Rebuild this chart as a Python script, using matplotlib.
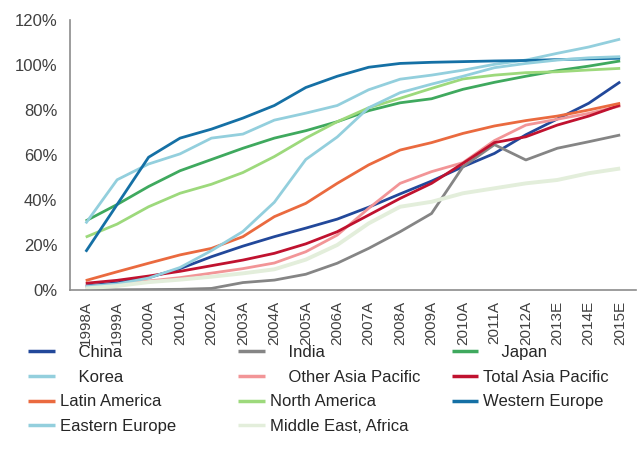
import matplotlib
matplotlib.use("Agg")
import matplotlib.pyplot as plt
from matplotlib.ticker import FuncFormatter

plt.rcParams['font.family'] = ['Liberation Sans', 'DejaVu Sans']

years = ['1998A', '1999A', '2000A', '2001A', '2002A', '2003A', '2004A', '2005A', '2006A',
         '2007A', '2008A', '2009A', '2010A', '2011A', '2012A', '2013E', '2014E', '2015E']

china = [1.8, 3.2, 5.5, 9.5, 14.8, 19.5, 23.7, 27.5, 31.5, 36.8, 42.7, 48.4, 54.8, 60.7, 69.0, 76.0, 83.0, 92.5]
india = [0.0, 0.1, 0.2, 0.3, 0.7, 3.3, 4.4, 7.0, 11.9, 18.5, 25.9, 34.0, 54.8, 64.6, 57.8, 63.0, 65.9, 68.9]
japan = [30.7, 38.0, 46.0, 53.0, 58.0, 63.0, 67.5, 70.8, 74.8, 79.7, 83.2, 85.0, 89.2, 92.3, 95.0, 97.5, 99.5, 101.8]
korea = [29.6, 49.0, 56.0, 60.5, 67.5, 69.3, 75.5, 78.6, 82.0, 89.0, 93.7, 95.5, 97.7, 100.3, 102.2, 105.2, 108.0, 111.5]
other_ap = [1.5, 2.5, 4.0, 5.5, 7.5, 9.5, 12.0, 17.0, 24.4, 36.3, 47.4, 52.6, 56.6, 66.4, 73.3, 75.9, 78.5, 81.8]
total_ap = [3.0, 4.3, 6.2, 8.3, 10.8, 13.3, 16.3, 20.5, 25.9, 33.3, 40.7, 47.4, 56.3, 65.5, 68.1, 73.3, 77.3, 82.2]
latin = [4.2, 8.1, 11.9, 15.6, 18.5, 23.7, 32.6, 38.5, 47.4, 55.6, 62.2, 65.5, 69.6, 72.9, 75.3, 77.3, 80.0, 83.0]
north_am = [23.5, 29.3, 37.0, 43.0, 47.0, 52.2, 59.3, 67.5, 74.8, 81.0, 85.2, 89.6, 93.8, 95.5, 96.6, 97.0, 97.8, 98.5]
west_eu = [17.0, 38.0, 59.0, 67.5, 71.5, 76.4, 82.0, 90.0, 95.0, 99.0, 100.7, 101.2, 101.5, 101.8, 102.0, 102.4, 102.7, 103.0]
east_eu = [1.5, 2.7, 5.3, 10.0, 17.5, 26.0, 39.0, 58.0, 68.0, 81.0, 87.7, 91.5, 95.0, 98.8, 100.7, 102.2, 103.2, 103.7]
mea = [0.7, 1.8, 3.5, 4.6, 5.9, 7.4, 9.2, 13.5, 20.0, 29.6, 37.0, 39.2, 43.0, 45.2, 47.4, 48.9, 51.9, 54.0]

pad = '    '
series = [
    (pad + 'China', china, '#22489a', 2.0),
    (pad + 'India', india, '#858585', 2.0),
    (pad + 'Japan', japan, '#3fa95e', 2.0),
    (pad + 'Korea', korea, '#93cfdd', 2.0),
    (pad + 'Other Asia Pacific', other_ap, '#f29597', 2.0),
    ('Total Asia Pacific', total_ap, '#c0122f', 2.0),
    ('Latin America', latin, '#ea6a3f', 2.0),
    ('North America', north_am, '#9dd97c', 2.0),
    ('Western Europe', west_eu, '#1570a5', 2.0),
    ('Eastern Europe', east_eu, '#93cfdd', 2.0),
    ('Middle East, Africa', mea, '#e3eedb', 2.8),
]

fig = plt.figure(figsize=(6.38, 4.62), dpi=100)
ax = fig.add_axes([0.1097, 0.3723, 0.887, 0.5844])

x = list(range(len(years)))
handles = []
for label, vals, color, lw in series:
    h, = ax.plot(x, vals, color=color, lw=lw, label=label, solid_capstyle='butt')
    handles.append(h)

ax.set_xlim(-0.5, len(years) - 0.5)
ax.set_ylim(0, 120)
ax.set_yticks(range(0, 121, 20))
ax.yaxis.set_major_formatter(FuncFormatter(lambda v, p: '%d%%' % v))
ax.set_xticks(x)
ax.set_xticklabels(years, rotation=90)
ax.tick_params(axis='both', length=0, colors='#404040')
ax.tick_params(axis='y', labelsize=12, pad=9)
ax.tick_params(axis='x', labelsize=11, pad=8)
for s in ['top', 'right']:
    ax.spines[s].set_visible(False)
for s in ['left', 'bottom']:
    ax.spines[s].set_color('#8c8c8c')
    ax.spines[s].set_linewidth(1.2)

# legend in three columns placed by hand
cols = [(handles[0::3], 0.044), (handles[1::3], 0.373), (handles[2::3], 0.708)]
for hs, xpos in cols:
    leg = fig.legend(handles=hs, loc='upper left', bbox_to_anchor=(xpos, 0.253),
                     frameon=False, fontsize=12, handlelength=1.6, handletextpad=0.3,
                     labelspacing=0.58, borderaxespad=0, borderpad=0)
    for t in leg.get_texts():
        t.set_color('#262626')
    for l in leg.get_lines():
        l.set_linewidth(2.5)

fig.savefig('out.png', dpi=100)
